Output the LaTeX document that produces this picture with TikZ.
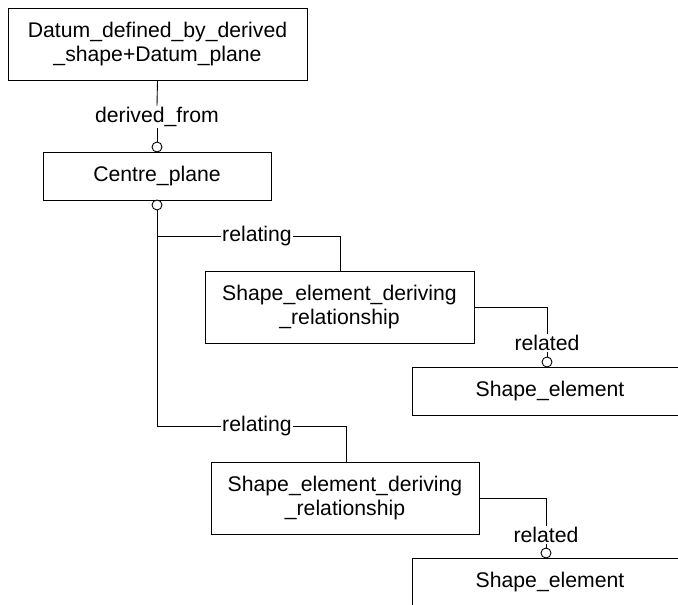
\documentclass[tikz,border=0pt]{standalone}
\usepackage{fontspec}
\setmainfont{Liberation Sans}
\begin{document}
\begin{tikzpicture}[x=1pt,y=-1pt,
  every node/.style={font=\fontsize{21.2}{24}\selectfont},
  entity/.style={draw,line width=0.9pt,align=center,inner sep=0pt,anchor=center},
  lbl/.style={inner sep=1.5pt},
  ring/.style={draw,circle,line width=0.9pt,fill=white,minimum size=10pt,inner sep=0pt},
  conn/.style={line width=0.9pt}]
\useasboundingbox (0,0) rectangle (678,605);
\clip (0,0) rectangle (678,605);
% entities
\node[entity,minimum width=299pt,minimum height=72pt] (d) at (157.5,44) {Datum\_defined\_by\_derived\\\_shape+Datum\_plane};
\node[entity,minimum width=228pt,minimum height=48pt] (cp) at (157,176) {Centre\_plane};
\node[entity,minimum width=269pt,minimum height=72pt] (r1) at (339.5,307) {Shape\_element\_deriving\\\_relationship};
\node[entity,minimum width=276pt,minimum height=48pt] (se1) at (550,391) {Shape\_element};
\node[entity,minimum width=268pt,minimum height=72pt] (r2) at (345,498) {Shape\_element\_deriving\\\_relationship};
\node[entity,minimum width=276pt,minimum height=48pt] (se2) at (550,582) {Shape\_element};
% derived_from
\node[lbl] (ldf) at (157,117) {derived\_from};
\node[ring] (c1) at (157,147) {};
\draw[conn] (d.south) -- (ldf.north);
\draw[conn] (ldf.south) -- (c1.north);
% centre plane bottom ring
\node[ring] (c2) at (157,205) {};
\coordinate (k1) at (157,236);
\coordinate (k2) at (157,426);
\draw[conn] (c2.south) -- (k2);
% branch 1
\node[lbl] (lr1) at (257,236) {relating};
\coordinate (t1) at (340,236);
\draw[conn] (k1) -- (lr1.west);
\draw[conn] (lr1.east) -- (t1) -- (t1 |- r1.north);
\coordinate (u1) at (547,307);
\node[lbl] (lre1) at (547,343) {related};
\node[ring] (c3) at (547,362) {};
\draw[conn] (r1.east |- u1) -- (u1) -- (lre1.north);
\draw[conn] (lre1.south) -- (c3.north);
% branch 2
\node[lbl] (lr2) at (257,426) {relating};
\coordinate (t2) at (346,426);
\draw[conn] (k2) -- (lr2.west);
\draw[conn] (lr2.east) -- (t2) -- (t2 |- r2.north);
\coordinate (u2) at (546,498);
\node[lbl] (lre2) at (546,535) {related};
\node[ring] (c4) at (546,553) {};
\draw[conn] (r2.east |- u2) -- (u2) -- (lre2.north);
\draw[conn] (lre2.south) -- (c4.north);
\end{tikzpicture}
\end{document}
